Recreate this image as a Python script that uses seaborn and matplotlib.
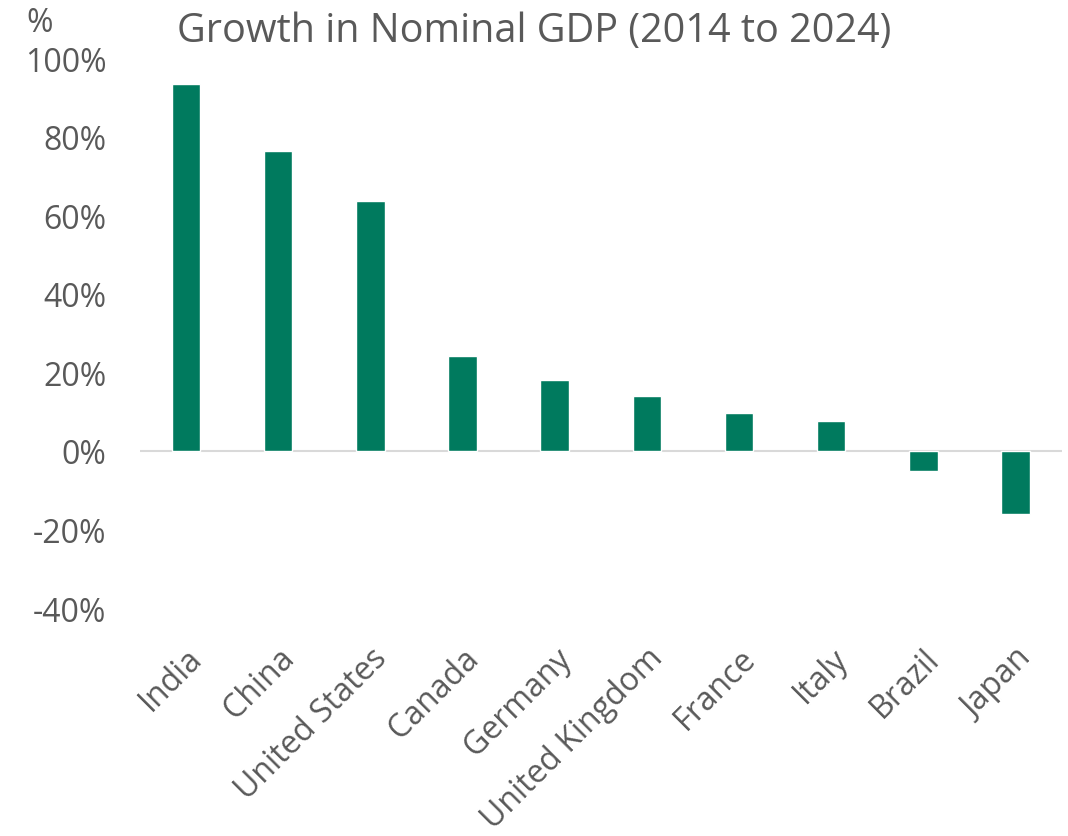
import matplotlib
matplotlib.use("Agg")
import matplotlib.pyplot as plt
import seaborn as sns
import pandas as pd
from matplotlib.ticker import FuncFormatter

countries = ["India", "China", "United States", "Canada", "Germany",
             "United Kingdom", "France", "Italy", "Brazil", "Japan"]
growth = [93.4, 76.3, 63.6, 24.2, 18.1, 14.0, 9.6, 7.6, -5.2, -16.1]
yticks = [-40, -20, 0, 20, 40, 60, 80, 100]

df = pd.DataFrame({"country": countries, "growth": growth})

sns.set_theme(style="white")
plt.rcParams['font.family'] = ['Open Sans', 'DejaVu Sans']
grey = "#595959"

fig = plt.figure(figsize=(10.68, 8.37), dpi=100)
ax = fig.add_axes([0.131, 0.2724, 0.863, 0.6571])

sns.barplot(data=df, x="country", y="growth", color="#007A5E",
            width=0.31, saturation=1, ax=ax)

ax.set_ylim(-40, 100)
ax.set_xlim(-0.5, len(countries) - 0.5)
ax.set_yticks(yticks)
ax.yaxis.set_major_formatter(FuncFormatter(lambda v, p: f"{int(v)}%"))
ax.tick_params(axis="y", labelsize=23, colors=grey, length=0, pad=24)
ax.tick_params(axis="x", labelsize=23, colors=grey, length=0, pad=24)
for lab in ax.get_xticklabels():
    lab.set_rotation(45)
    lab.set_ha("right")
    lab.set_va("top")
    lab.set_rotation_mode("anchor")
for lab in ax.get_yticklabels():
    lab.set_ha("right")

for s in ax.spines.values():
    s.set_visible(False)
ax.axhline(0, color="#D9D9D9", lw=1.5, zorder=0)
ax.set_xlabel("")
ax.set_ylabel("")

fig.text(0.5, 0.962, "Growth in Nominal GDP (2014 to 2024)", ha="center",
         va="center", fontsize=28.5, color=grey)
fig.text(0.025, 0.972, "%", ha="left", va="center", fontsize=23, color=grey)

fig.savefig("out.png", dpi=100)
